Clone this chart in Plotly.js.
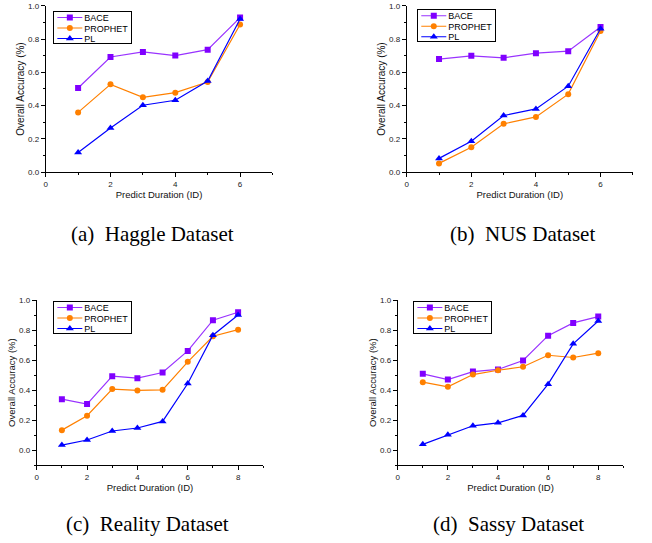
<!DOCTYPE html>
<html>
<head>
<meta charset="utf-8">
<script src="https://cdn.plot.ly/plotly-3.0.1.min.js"></script>
<style>
html,body{margin:0;padding:0;background:#fff;}
#chart{width:652px;height:543px;}
</style>
</head>
<body>
<div id="chart"></div>
<script>
// ---- data ----
var seriesNames = ['BACE', 'PROPHET', 'PL'];
var xTop = [1, 2, 3, 4, 5, 6];
var xBottom = [1, 2, 3, 4, 5, 6, 7, 8];

var haggleBACE    = [0.506, 0.693, 0.723, 0.701, 0.737, 0.930];
var hagglePROPHET = [0.359, 0.528, 0.450, 0.478, 0.542, 0.888];
var hagglePL      = [0.118, 0.265, 0.402, 0.432, 0.548, 0.922];

var nusBACE    = [0.680, 0.700, 0.688, 0.716, 0.728, 0.873];
var nusPROPHET = [0.052, 0.149, 0.290, 0.332, 0.469, 0.849];
var nusPL      = [0.082, 0.185, 0.340, 0.380, 0.517, 0.863];

var realityBACE    = [0.340, 0.307, 0.493, 0.480, 0.518, 0.662, 0.867, 0.920];
var realityPROPHET = [0.133, 0.229, 0.407, 0.398, 0.402, 0.589, 0.760, 0.804];
var realityPL      = [0.033, 0.067, 0.127, 0.147, 0.191, 0.444, 0.767, 0.902];

var sassyBACE    = [0.509, 0.471, 0.524, 0.538, 0.598, 0.764, 0.849, 0.891];
var sassyPROPHET = [0.453, 0.422, 0.504, 0.533, 0.556, 0.633, 0.618, 0.647];
var sassyPL      = [0.038, 0.102, 0.162, 0.182, 0.231, 0.440, 0.709, 0.862];

var captions = ['(a)\u00a0\u00a0Haggle Dataset', '(b)\u00a0\u00a0NUS Dataset',
                '(c)\u00a0\u00a0Reality Dataset', '(d)\u00a0\u00a0Sassy Dataset'];
var xTitle = 'Predict Duration (ID)';
var yTitle = 'Overall Accuracy (%)';

// ---- styles ----
var colors = ['#9933ff', '#ff8000', '#0000ff'];
var markerColors = ['#8000ff', '#ff8000', '#0000ff'];
var symbols = ['square', 'circle', 'triangle-up'];
var msizes = [6, 6, 7];

var panels = [
  {x: xTop, ys: [haggleBACE, hagglePROPHET, hagglePL], xa: 'x', ya: 'y', lg: 'legend'},
  {x: xTop, ys: [nusBACE, nusPROPHET, nusPL], xa: 'x2', ya: 'y2', lg: 'legend2'},
  {x: xBottom, ys: [realityBACE, realityPROPHET, realityPL], xa: 'x3', ya: 'y3', lg: 'legend3'},
  {x: xBottom, ys: [sassyBACE, sassyPROPHET, sassyPL], xa: 'x4', ya: 'y4', lg: 'legend4'}
];

var traces = [];
panels.forEach(function(p) {
  p.ys.forEach(function(y, i) {
    traces.push({
      type: 'scatter', mode: 'lines+markers',
      x: p.x, y: y, name: seriesNames[i],
      xaxis: p.xa, yaxis: p.ya, legend: p.lg,
      line: {color: colors[i], width: 1.2},
      marker: {symbol: symbols[i], size: msizes[i], color: markerColors[i]},
      hoverinfo: 'x+y'
    });
  });
});

var tickFont = {family: 'Liberation Sans, Arial, sans-serif', size: 8, color: '#222'};
function titleFont(sz) { return {family: 'Liberation Sans, Arial, sans-serif', size: sz, color: '#111'}; }

function xAxis(domain, range, anchor) {
  return {
    domain: domain, range: range, anchor: anchor,
    showgrid: false, zeroline: false, showline: true, linecolor: '#000', linewidth: 1,
    ticks: 'outside', ticklen: 4, tickcolor: '#000', tickwidth: 1,
    dtick: 2, tick0: 0, tickfont: tickFont,
    minor: {dtick: 1, tick0: 0, ticks: 'outside', ticklen: 2, tickcolor: '#000', showgrid: false},
    title: {text: xTitle, font: titleFont(9.5), standoff: 2},
    fixedrange: true
  };
}
function yAxis(domain, range, anchor, tsz) {
  return {
    domain: domain, range: range, anchor: anchor,
    showgrid: false, zeroline: false, showline: true, linecolor: '#000', linewidth: 1,
    ticks: 'outside', ticklen: 4, tickcolor: '#000', tickwidth: 1,
    dtick: 0.2, tick0: 0, tickformat: '.1f', tickfont: tickFont,
    minor: {dtick: 0.1, tick0: 0, ticks: 'outside', ticklen: 2, tickcolor: '#000', showgrid: false},
    title: {text: yTitle, font: titleFont(tsz), standoff: 1},
    fixedrange: true
  };
}

function legendAt(x, y) {
  return {
    x: x, y: y, xanchor: 'left', yanchor: 'top',
    bgcolor: '#fff', bordercolor: '#000', borderwidth: 1,
    font: {family: 'Liberation Sans, Arial, sans-serif', size: 9, color: '#000'},
    itemwidth: 30, tracegroupgap: 0
  };
}

var capFont = {family: 'Liberation Serif, Times New Roman, serif', size: 21, color: '#000'};
function caption(text, x, y) {
  return {text: text, xref: 'paper', yref: 'paper', x: x, y: y,
          xanchor: 'center', yanchor: 'middle', showarrow: false, font: capFont};
}

var layout = {
  width: 652, height: 543,
  margin: {l: 0, r: 0, t: 0, b: 0},
  paper_bgcolor: '#fff', plot_bgcolor: '#fff',
  showlegend: true,
  xaxis:  xAxis([0.0701, 0.4179], [0, 7], 'y'),
  yaxis:  yAxis([0.6832, 0.9890], [0, 1.0], 'x', 10),
  xaxis2: xAxis([0.6238, 0.9706], [0, 7], 'y2'),
  yaxis2: yAxis([0.6832, 0.9890], [0, 1.0], 'x2', 10),
  xaxis3: xAxis([0.0563, 0.4038], [0, 9], 'y3'),
  yaxis3: yAxis([0.1436, 0.4470], [-0.1, 1.0], 'x3', 9.5),
  xaxis4: xAxis([0.6100, 0.9560], [0, 9], 'y4'),
  yaxis4: yAxis([0.1436, 0.4470], [-0.1, 1.0], 'x4', 9.5),
  legend:  legendAt(0.0818, 0.9797),
  legend2: legendAt(0.640, 0.983),
  legend3: legendAt(0.0818, 0.4457),
  legend4: legendAt(0.634, 0.4457),
  annotations: [
    caption(captions[0], 0.234, 1 - 234 / 543),
    caption(captions[1], 0.801, 1 - 234 / 543),
    caption(captions[2], 0.226, 1 - 523.5 / 543),
    caption(captions[3], 0.780, 1 - 523.5 / 543)
  ]
};

// compact the legend boxes (Plotly enforces a tall minimum row height)
function compactLegends(gd) {
  var rowGap = 10.5, firstRow = 6.5, textX = 30;
  gd.querySelectorAll('rect.bg').forEach(function(bg) {
    var lg = bg.parentNode;
    if (!lg) return;
    var items = lg.querySelectorAll('g.traces');
    if (!items.length) return;
    var maxW = 0;
    items.forEach(function(it, i) {
      try {
        var m = /translate\(\s*([-\d.]+)/.exec(it.getAttribute('transform') || '');
        var tx = m ? parseFloat(m[1]) : 0;
        it.setAttribute('transform', 'translate(' + tx + ',' + (firstRow + rowGap * i) + ')');
        it.querySelectorAll('text').forEach(function(txt) {
          txt.setAttribute('x', textX);
          txt.querySelectorAll('tspan').forEach(function(ts) { if (ts.hasAttribute('x')) ts.setAttribute('x', textX); });
          var w = 0;
          try { w = txt.getBBox().width; } catch (e) { w = 0; }
          if (!w && txt.getComputedTextLength) w = txt.getComputedTextLength();
          maxW = Math.max(maxW, w);
        });
        it.querySelectorAll('g.legendlines path, path.js-line').forEach(function(p) { p.setAttribute('d', 'M3,0h25'); });
        it.querySelectorAll('path.scatterpts').forEach(function(p) {
          p.setAttribute('transform', 'translate(15.5,0)');
        });
        var tog = it.querySelector('rect.legendtoggle');
        if (tog) tog.setAttribute('width', 0);
      } catch (e) {}
    });
    if (!maxW) maxW = 44;
    var h = firstRow * 2 + rowGap * (items.length - 1) - 2;
    var w = textX + maxW + 4;
    bg.setAttribute('height', h);
    bg.setAttribute('width', w);
    bg.style.height = h + 'px';
    bg.style.width = w + 'px';
  });
}

var gd = document.getElementById('chart');
Plotly.newPlot(gd, traces, layout, {displayModeBar: false, staticPlot: true}).then(function() {
  compactLegends(gd);
  gd.on('plotly_afterplot', function() { compactLegends(gd); });
  [0, 50, 150, 400, 800].forEach(function(t) { setTimeout(function() { compactLegends(gd); }, t); });
});
</script>
</body>
</html>
